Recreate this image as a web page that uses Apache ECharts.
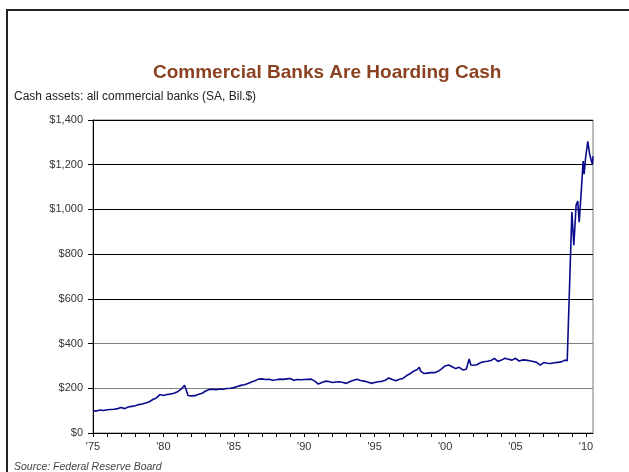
<!DOCTYPE html>
<html>
<head>
<meta charset="utf-8">
<script src="https://cdn.jsdelivr.net/npm/echarts@6/dist/echarts.min.js"></script>
<style>
  html, body { margin: 0; padding: 0; background: #fff; }
  #chart { width: 629px; height: 472px; }
</style>
</head>
<body>
<div id="chart"></div>
<script>
// Cash assets of all commercial banks, seasonally adjusted, billions of dollars
const years = [
  1975.00, 1975.25, 1975.50, 1975.75, 1976.00, 1976.25, 1976.50, 1976.75,
  1977.00, 1977.25, 1977.50, 1977.75, 1978.00, 1978.25, 1978.50, 1978.75,
  1979.00, 1979.25, 1979.50, 1979.75, 1980.00, 1980.25, 1980.50, 1980.75,
  1981.00, 1981.25, 1981.50, 1981.63, 1981.75, 1982.00, 1982.25, 1982.50, 1982.75,
  1983.00, 1983.25, 1983.50, 1983.75, 1984.00, 1984.25, 1984.50, 1984.75,
  1985.00, 1985.25, 1985.50, 1985.75, 1986.00, 1986.25, 1986.50, 1986.75,
  1987.00, 1987.25, 1987.50, 1987.75, 1988.00, 1988.25, 1988.50, 1988.75,
  1989.00, 1989.25, 1989.50, 1989.75, 1990.00, 1990.25, 1990.50, 1990.75,
  1991.00, 1991.25, 1991.50, 1991.75, 1992.00, 1992.25, 1992.50, 1992.75,
  1993.00, 1993.25, 1993.50, 1993.75, 1994.00, 1994.25, 1994.50, 1994.75,
  1995.00, 1995.25, 1995.50, 1995.75, 1996.00, 1996.25, 1996.50, 1996.75,
  1997.00, 1997.25, 1997.50, 1997.75, 1998.00, 1998.17, 1998.25, 1998.50, 1998.75,
  1999.00, 1999.25, 1999.50, 1999.75, 2000.00, 2000.25, 2000.50, 2000.75,
  2001.00, 2001.25, 2001.50, 2001.63, 2001.71, 2001.83, 2002.00, 2002.25, 2002.50, 2002.75,
  2003.00, 2003.25, 2003.50, 2003.75, 2004.00, 2004.25, 2004.50, 2004.75,
  2005.00, 2005.25, 2005.50, 2005.75, 2006.00, 2006.25, 2006.50, 2006.75,
  2007.00, 2007.25, 2007.50, 2007.75, 2008.00, 2008.25, 2008.50, 2008.67,
  2009.00, 2009.14, 2009.30, 2009.42, 2009.52, 2009.64, 2009.80, 2009.87, 2009.97,
  2010.13, 2010.25, 2010.37, 2010.46, 2010.50
];
const cashAssets = [
  100, 98, 103, 101, 104, 105, 106, 109,
  114, 109, 116, 119, 122, 127, 130, 134,
  140, 150, 157, 172, 168, 172, 174, 178,
  184, 196, 214, 215, 168, 166, 167, 173, 178,
  188, 195, 196, 194, 197, 196, 199, 200,
  203, 208, 213, 216, 221, 228, 234, 241,
  242, 239, 240, 236, 238, 241, 240, 242,
  244, 236, 239, 238, 239, 240, 241, 232,
  219, 226, 232, 230, 226, 228, 229, 226,
  222, 230, 236, 240, 235, 232, 228, 222,
  226, 229, 231, 236, 246, 239, 234, 240,
  244, 256, 265, 276, 283, 294, 278, 266, 268,
  270, 270, 276, 287, 300, 304, 296, 288,
  294, 282, 285, 277, 331, 304, 303, 305, 314, 319,
  321, 324, 334, 320, 326, 334, 330, 326,
  334, 322, 327, 326, 323, 320, 316, 304,
  315, 312, 311, 314, 316, 318, 326, 323,
  988, 840, 1019, 1037, 943, 1055, 1216, 1158, 1229,
  1305, 1252, 1220, 1202, 1238
];
const yTicks = [0, 200, 400, 600, 800, 1000, 1200, 1400];

const titleText = 'Commercial Banks Are Hoarding Cash';
const subtitleText = 'Cash assets: all commercial banks (SA, Bil.$)';
const sourceText = 'Source: Federal Reserve Board';

const FONT = '"Liberation Sans", Arial, sans-serif';

const chart = echarts.init(document.getElementById('chart'), null, { renderer: 'canvas' });

const points = years.map((y, i) => [y, cashAssets[i]]);

function dollars(v) {
  return '$' + String(v).replace(/\B(?=(\d{3})+(?!\d))/g, ',');
}

chart.setOption({
  animation: false,
  backgroundColor: '#fff',
  title: [
    {
      text: titleText,
      left: 148,
      top: 58,
      textStyle: { fontFamily: FONT, fontSize: 19, fontWeight: 'bold', color: '#8B4220' }
    },
    {
      text: subtitleText,
      left: 9,
      top: 86,
      textStyle: { fontFamily: FONT, fontSize: 12, fontWeight: 'normal', color: '#222' }
    },
    {
      text: sourceText,
      left: 9,
      top: 457,
      textStyle: { fontFamily: FONT, fontSize: 10.5, fontWeight: 'normal', fontStyle: 'italic', color: '#444' }
    }
  ],
  graphic: [
    {
      type: 'rect',
      shape: { x: 7, y: 10, width: 700, height: 600 },
      style: { fill: 'none', stroke: '#222', lineWidth: 2 },
      silent: true
    }
  ],
  grid: {
    left: 93, right: 36, top: 120, bottom: 39,
    show: true, borderColor: '#777', borderWidth: 1, backgroundColor: 'transparent'
  },
  xAxis: {
    type: 'value',
    min: 1975,
    max: 2010.5,
    interval: 1,
    axisLine: { show: true, lineStyle: { color: '#000', width: 1 } },
    axisTick: { show: true, inside: false, length: 4, lineStyle: { color: '#000' } },
    splitLine: { show: false },
    axisLabel: {
      margin: 8,
      fontFamily: FONT, fontSize: 11, color: '#333',
      showMaxLabel: false,
      formatter: function (v) {
        if (Math.abs(v - Math.round(v)) > 1e-6) return '';
        const yr = Math.round(v);
        if (yr % 5 !== 0) return '';
        return "'" + String(yr % 100).padStart(2, '0');
      }
    }
  },
  yAxis: {
    type: 'value',
    min: yTicks[0],
    max: yTicks[yTicks.length - 1],
    interval: 200,
    axisLine: { show: true, lineStyle: { color: '#000', width: 1 } },
    axisTick: { show: true, inside: false, length: 5, lineStyle: { color: '#000' } },
    splitLine: {
      show: true,
      lineStyle: { color: ['#000', '#808080', '#808080', '#000', '#000', '#000', '#000', '#000'], width: 1 }
    },
    axisLabel: {
      margin: 10,
      fontFamily: FONT, fontSize: 11, color: '#333',
      formatter: dollars
    }
  },
  series: [
    {
      type: 'line',
      data: points,
      showSymbol: false,
      symbol: 'none',
      lineStyle: { color: '#0a0a8c', width: 1.6 },
      clip: true
    }
  ]
});
</script>
</body>
</html>
